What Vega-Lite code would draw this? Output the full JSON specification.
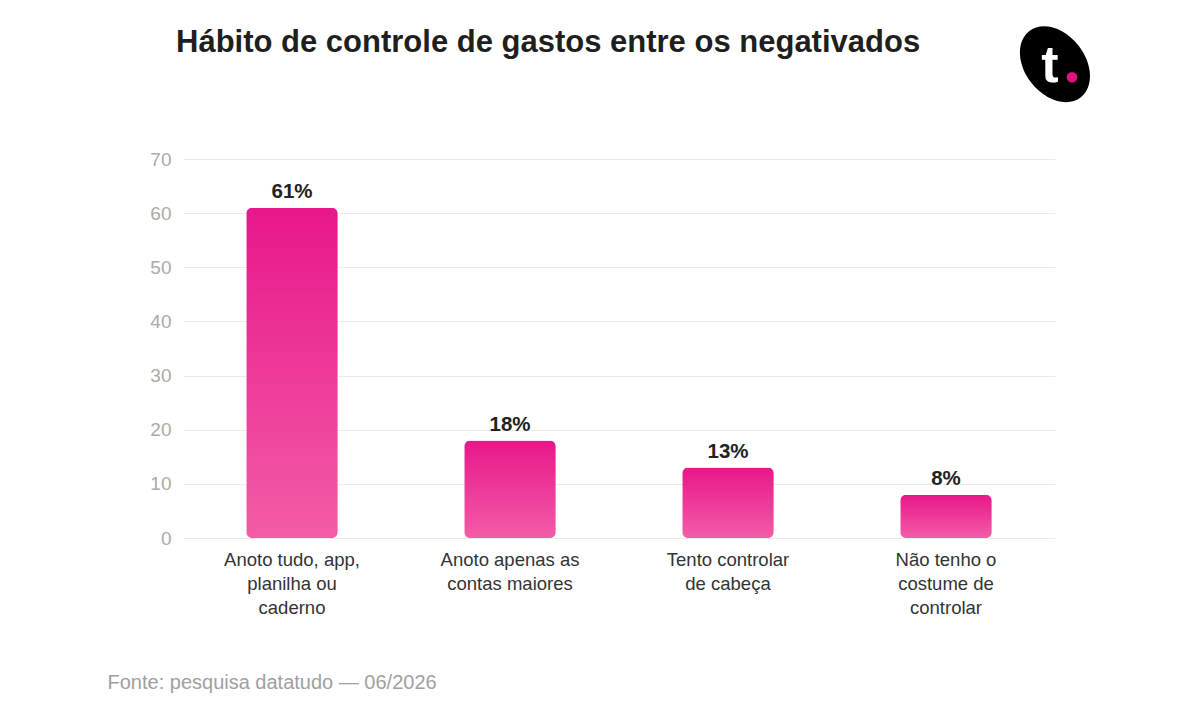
{
  "$schema": "https://vega.github.io/schema/vega-lite/v6.json",
  "width": 872,
  "height": 379,
  "autosize": "none",
  "padding": {"left": 183, "top": 159, "right": 145, "bottom": 181},
  "background": "#ffffff",
  "config": {
    "font": "Liberation Sans",
    "view": {"stroke": null}
  },
  "title": {
    "text": "Hábito de controle de gastos entre os negativados",
    "anchor": "start",
    "frame": "group",
    "dx": -7,
    "offset": 0,
    "dy": 57,
    "baseline": "alphabetic",
    "fontSize": 31,
    "fontWeight": "bold",
    "font": "Liberation Sans",
    "color": "#1f1f1f"
  },
  "data": {
    "values": [
      {"categoria": "Anoto tudo, app,|planilha ou|caderno", "pct": 61},
      {"categoria": "Anoto apenas as|contas maiores", "pct": 18},
      {"categoria": "Tento controlar|de cabeça", "pct": 13},
      {"categoria": "Não tenho o|costume de|controlar", "pct": 8}
    ]
  },
  "layer": [
    {
      "mark": {
        "type": "bar",
        "cornerRadius": 6,
        "fill": {
          "gradient": "linear",
          "x1": 0, "y1": 0, "x2": 0, "y2": 1,
          "stops": [
            {"offset": 0, "color": "#e8178a"},
            {"offset": 1, "color": "#f35ca7"}
          ]
        }
      },
      "encoding": {
        "x": {
          "field": "categoria",
          "type": "nominal",
          "sort": null,
          "scale": {"paddingInner": 0.58, "paddingOuter": 0.29},
          "axis": {
            "title": "Fonte: pesquisa datatudo — 06/2026",
            "titleX": -76,
            "titleY": 150,
            "titleAlign": "left",
            "titleAnchor": "start",
            "titleBaseline": "alphabetic",
            "titleFontSize": 20,
            "titleFontWeight": "normal",
            "titleColor": "#a0a0a0",
            "labelExpr": "split(datum.label, '|')",
            "labelAngle": 0,
            "labelFontSize": 18.5,
            "labelLineHeight": 24,
            "labelColor": "#333333",
            "labelPadding": 12,
            "labelLimit": 300,
            "domain": false,
            "ticks": false,
            "grid": false
          }
        },
        "y": {
          "field": "pct",
          "type": "quantitative",
          "scale": {"domain": [0, 70]},
          "axis": {
            "title": null,
            "values": [0, 10, 20, 30, 40, 50, 60, 70],
            "labelFontSize": 19,
            "labelColor": "#aaaaaa",
            "labelPadding": 12,
            "domain": false,
            "ticks": false,
            "gridColor": "#ecebe3",
            "gridWidth": 1
          }
        }
      }
    },
    {
      "transform": [{"calculate": "datum.pct + '%'", "as": "rotulo"}],
      "mark": {
        "type": "text",
        "baseline": "alphabetic",
        "dy": -10,
        "fontSize": 20.5,
        "fontWeight": "bold",
        "color": "#222222"
      },
      "encoding": {
        "x": {"field": "categoria", "type": "nominal", "sort": null},
        "y": {"field": "pct", "type": "quantitative"},
        "text": {"field": "rotulo", "type": "nominal"}
      }
    },
    {
      "data": {"values": [{"logo": "t"}]},
      "layer": [
        {
          "mark": {
            "type": "point",
            "filled": true,
            "color": "#000000",
            "opacity": 1,
            "shape": "M -0.714,0 A 0.714,1 0 1,0 0.714,0 A 0.714,1 0 1,0 -0.714,0 Z",
            "size": 7056,
            "angle": -38,
            "clip": false
          },
          "encoding": {
            "x": {"value": "width"},
            "y": {"datum": 87.5}
          }
        },
        {
          "mark": {
            "type": "text",
            "font": "Liberation Sans",
            "fontWeight": "bold",
            "fontSize": 52,
            "color": "#ffffff",
            "baseline": "middle",
            "dx": -5,
            "dy": 2
          },
          "encoding": {
            "x": {"value": "width"},
            "y": {"datum": 87.5},
            "text": {"field": "logo"}
          }
        },
        {
          "mark": {
            "type": "point",
            "filled": true,
            "shape": "circle",
            "color": "#e0147f",
            "opacity": 1,
            "size": 113,
            "xOffset": 17,
            "yOffset": 13
          },
          "encoding": {
            "x": {"value": "width"},
            "y": {"datum": 87.5}
          }
        }
      ]
    }
  ]
}
